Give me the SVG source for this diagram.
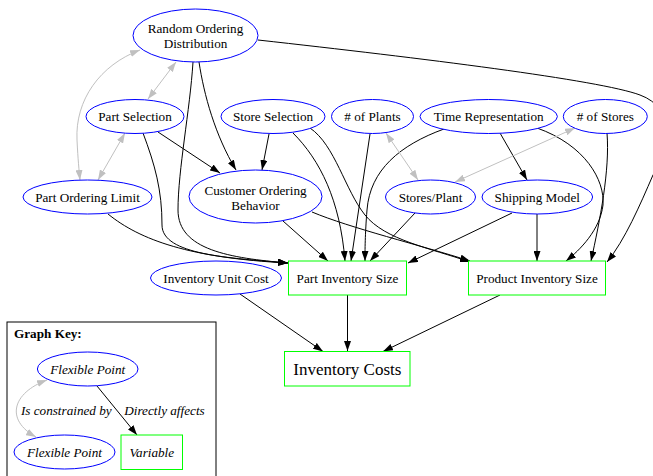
<svg xmlns="http://www.w3.org/2000/svg" width="653" height="476" viewBox="0 0 653 476">
<defs>
<style>
.n ellipse{fill:#fff;stroke:#0000ff;stroke-width:1}
.v rect{fill:#fff;stroke:#00ff00;stroke-width:1}
text{font-family:"Liberation Serif","Times New Roman",serif;font-size:13.2px;fill:#000;text-anchor:middle}
.e path{fill:none;stroke:#000;stroke-width:1;marker-end:url(#a)}
.e path.g{stroke:#c0c0c0;marker-start:url(#g);marker-end:url(#g)}
.it{font-style:italic}
</style>
<marker id="a" viewBox="0 0 10 7" refX="10" refY="3.5" markerWidth="10" markerHeight="7" orient="auto" markerUnits="userSpaceOnUse"><path d="M0,0 L10,3.5 L0,7 z" fill="#000"/></marker>
<marker id="g" viewBox="0 0 10 7" refX="10" refY="3.5" markerWidth="10" markerHeight="7" orient="auto-start-reverse" markerUnits="userSpaceOnUse"><path d="M0,0 L10,3.5 L0,7 z" fill="#c0c0c0"/></marker>
</defs>
<rect width="653" height="476" fill="#fff"/>
<g id="connectors" class="e">
<path d="M199,62 C204,95 215,135 236,170"/>
<path d="M193,62 C190,110 178,170 178,210 C178,250 230,258 288,263"/>
<path d="M258,40 C420,58 600,80 640,95 C676,108 672,150 653,175 C640,205 625,240 607,262"/>
<path d="M158,132 L220,173"/>
<path d="M143,133 C155,165 162,190 162,225 C162,255 230,258 288,263"/>
<path d="M269,134 L262,170"/>
<path d="M293,133 C320,160 340,200 345,261"/>
<path d="M310,128 C335,145 345,190 365,215 C385,240 430,248 470,262"/>
<path d="M283,221 L328,261"/>
<path d="M312,212 C350,228 420,245 470,261"/>
<path d="M108,214 C140,240 190,258 288,263"/>
<path d="M370,134 L351,261"/>
<path d="M444,129 C400,145 370,170 367,210 C365,235 365,250 365,261"/>
<path d="M415,213 L370,261"/>
<path d="M512,213 L408,263"/>
<path d="M537,214 L537,261"/>
<path d="M500,133 L527,180"/>
<path d="M537,128 C585,145 605,180 603,205 C600,230 580,250 566,261"/>
<path d="M607,133 C610,170 600,220 591,261"/>
<path d="M347.5,295 L347.5,351"/>
<path d="M500,295 L383,351.5"/>
<path d="M240,294 L323,351.5"/>
<path class="g" d="M140,50 C100,65 75,100 77,140 C78,160 79,170 80,180"/>
<path class="g" d="M176,62 L148,99"/>
<path class="g" d="M125,133 L98,180"/>
<path class="g" d="M386,133 L418,180"/>
<path class="g" d="M575,128 L455,182"/>
<path class="g" d="M47,380 C12,393 5,420 36,437"/>
<path d="M97,386 L137,435"/>
</g>
<g id="rod" class="n"><ellipse cx="195.5" cy="35.5" rx="62.5" ry="26.5"/><text x="195.5" y="33">Random Ordering</text><text x="195.5" y="48">Distribution</text></g>
<g id="ps" class="n"><ellipse cx="135" cy="116.5" rx="49" ry="17"/><text x="135" y="121">Part Selection</text></g>
<g id="ss" class="n"><ellipse cx="273" cy="116.5" rx="52" ry="17"/><text x="273" y="121">Store Selection</text></g>
<g id="np" class="n"><ellipse cx="372.5" cy="116.5" rx="41" ry="17"/><text x="372.5" y="121"># of Plants</text></g>
<g id="tr" class="n"><ellipse cx="488.7" cy="116.5" rx="68.7" ry="17"/><text x="488.7" y="121">Time Representation</text></g>
<g id="ns" class="n"><ellipse cx="605.3" cy="116.5" rx="42" ry="17"/><text x="605.3" y="121"># of Stores</text></g>
<g id="pol" class="n"><ellipse cx="87.5" cy="197" rx="64.5" ry="17"/><text x="87.5" y="201.5">Part Ordering Limit</text></g>
<g id="cob" class="n"><ellipse cx="255.5" cy="196.5" rx="66.5" ry="26.5"/><text x="255.5" y="194.5">Customer Ordering</text><text x="255.5" y="209.5">Behavior</text></g>
<g id="sp" class="n"><ellipse cx="430.5" cy="197" rx="45" ry="17"/><text x="430.5" y="201.5">Stores/Plant</text></g>
<g id="sm" class="n"><ellipse cx="537.3" cy="197" rx="55.3" ry="17"/><text x="537.3" y="201.5">Shipping Model</text></g>
<g id="iuc" class="n"><ellipse cx="216" cy="278" rx="65.5" ry="17"/><text x="216" y="282.5">Inventory Unit Cost</text></g>
<g id="pis" class="v"><rect x="288.5" y="261" width="118" height="34"/><text x="347.5" y="282.5">Part Inventory Size</text></g>
<g id="prodis" class="v"><rect x="468.5" y="261" width="137" height="34"/><text x="537" y="282.5">Product Inventory Size</text></g>
<g id="ic" class="v"><rect x="284.5" y="351.5" width="125.5" height="34.5"/><text x="347.3" y="374.5" style="font-size:17px">Inventory Costs</text></g>
<g id="key">
<rect x="7" y="322" width="209" height="170" fill="none" stroke="#000" stroke-width="1"/>
<text x="14" y="338" style="font-weight:bold;text-anchor:start">Graph Key:</text>
<g id="key-fp1" class="n"><ellipse cx="87.7" cy="369" rx="50.3" ry="17"/><text class="it" x="87.7" y="373.5">Flexible Point</text></g>
<g id="key-fp2" class="n"><ellipse cx="64.5" cy="452" rx="50.5" ry="17"/><text class="it" x="64.5" y="456.5">Flexible Point</text></g>
<g id="key-var" class="v"><rect x="121" y="435" width="61.5" height="34.5"/><text class="it" x="151.8" y="457">Variable</text></g>
<text class="it" x="66.3" y="415">Is constrained by</text>
<text class="it" x="164.5" y="415">Directly affects</text>
</g>
</svg>
